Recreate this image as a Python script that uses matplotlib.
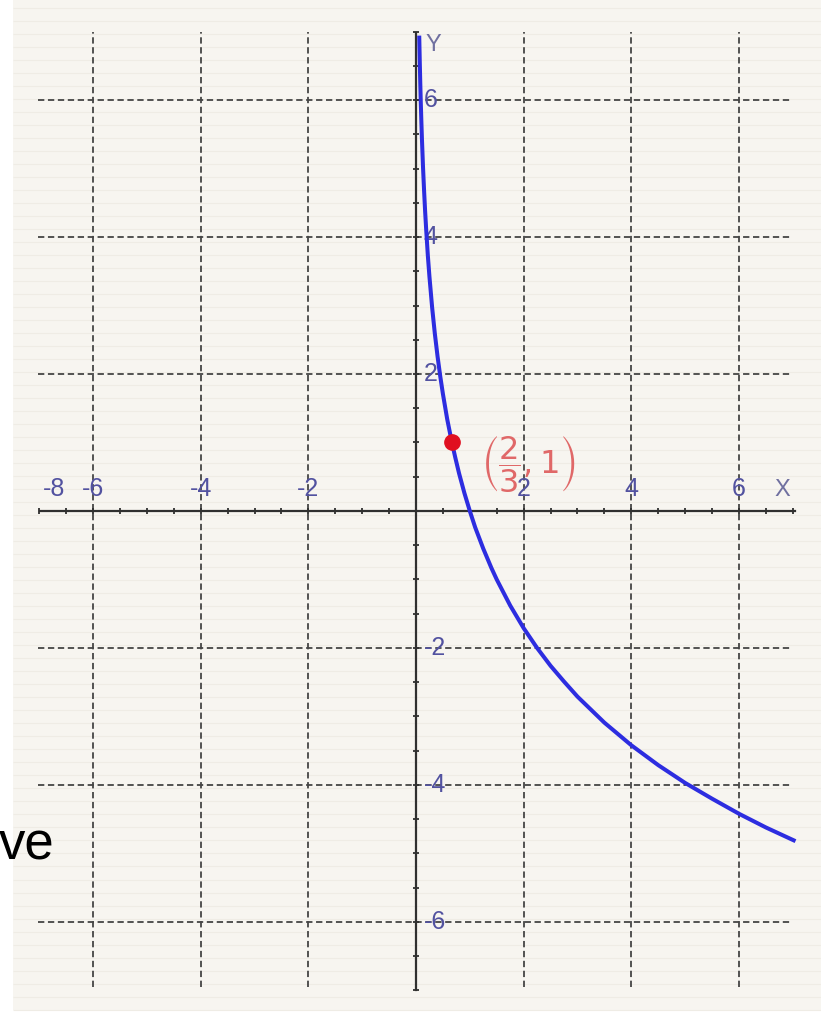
import numpy as np
import matplotlib.pyplot as plt
from matplotlib.patches import Rectangle

# curve y = log_{2/3}(x)
curve_x = [0.06, 0.07, 0.08, 0.09, 0.1, 0.11, 0.13, 0.15, 0.17, 0.19, 0.22, 0.25,
           0.3, 0.35, 0.4, 0.45, 0.5, 0.58, 0.667, 0.73, 0.8, 0.9, 1.0, 1.1, 1.25,
           1.4, 1.5, 1.75, 2.0, 2.25, 2.5, 2.75, 3.0, 3.5, 4.0, 4.5, 5.0, 5.5, 6.0,
           6.5, 7.05]
curve_y = [6.94, 6.56, 6.23, 5.94, 5.68, 5.44, 5.03, 4.68, 4.37, 4.10, 3.73, 3.42,
           2.97, 2.59, 2.26, 1.97, 1.71, 1.34, 1.00, 0.78, 0.55, 0.26, 0.0, -0.24, -0.55,
           -0.83, -1.00, -1.38, -1.71, -2.00, -2.26, -2.49, -2.71, -3.09, -3.42, -3.71,
           -3.97, -4.20, -4.42, -4.62, -4.82]

# marked point (2/3, 1)
point_x = 2 / 3
point_y = 1

grid_x = [-6, -4, -2, 2, 4, 6]
grid_y = [6, 4, 2, -2, -4, -6]

xtick_pos = [-6.72, -6, -4, -2, 2, 4, 6]
xtick_labels = ['-8', '-6', '-4', '-2', '2', '4', '6']
ytick_pos = [6, 4, 2, -2, -4, -6]
ytick_labels = ['6', '4', '2', '-2', '-4', '-6']

minor_x = [v for v in np.arange(-7, 7.01, 0.5) if v != 0]
minor_y = [v for v in np.arange(-7, 7.01, 0.5) if v != 0]

fig = plt.figure(figsize=(8.21, 10.15), dpi=100)
ax = fig.add_axes([0, 0, 1, 1])
ax.set_xlim(-7.728, 7.524)
ax.set_ylim(-7.358, 7.460)
ax.axis('off')

# off-white canvas with faint horizontal banding
ax.add_patch(Rectangle((0.0158, 0.005), 1, 1, transform=ax.transAxes,
                       facecolor='#f7f5f0', edgecolor='none', zorder=0))
ax.hlines(np.arange(-7.28, 7.46, 0.19), -7.487, 7.524, color='#efece5', lw=0.8, zorder=0.5)

# dashed grid
grid_style = dict(color='#454545', lw=1.3, linestyles=(0, (3.5, 2)), zorder=1)
ax.vlines(grid_x, -6.95, 6.99, **grid_style)
ax.hlines(grid_y, -7.02, 6.95, **grid_style)

# axes with small ticks every half unit
ax.plot([-6.98, 7.04], [0, 0], color='#303030', lw=1.6, zorder=2)
ax.plot([0, 0], [-6.99, 6.98], color='#303030', lw=1.6, zorder=2)
ax.plot(minor_x, [0] * len(minor_x), ls='none', marker='|', ms=5, mew=1.3,
        color='#303030', zorder=2)
ax.plot([0] * len(minor_y), minor_y, ls='none', marker='_', ms=5, mew=1.3,
        color='#303030', zorder=2)

label_color = '#5252a0'
for xp, t in zip(xtick_pos, xtick_labels):
    ax.text(xp, 0.32, t, ha='center', va='center', fontsize=18,
            family='Liberation Sans', color=label_color, zorder=3)
for yp, t in zip(ytick_pos, ytick_labels):
    ax.text(0.14, yp, t, ha='left', va='center', fontsize=18,
            family='Liberation Sans', color=label_color, zorder=3)
ax.text(6.8, 0.31, 'X', ha='center', va='center', fontsize=17,
        family='Liberation Sans', color='#7070a0', zorder=3)
ax.text(0.33, 6.8, 'Y', ha='center', va='center', fontsize=17,
        family='Liberation Sans', color='#7070a0', zorder=3)

# the function curve and the marked point
ax.plot(curve_x, curve_y, color='#2d2de0', lw=2.9, solid_capstyle='butt', zorder=4)
ax.plot(point_x, point_y, 'o', ms=11, color='#e01020', zorder=5)
ax.text(2.08, 0.69, r'$\left(\dfrac{2}{3},1\right)$', ha='center', va='center',
        fontsize=23, color='#e06868', zorder=5)

# slide text cut off at the left edge
fig.text(55 / 821, 1 - 845 / 1015, 've', ha='right', va='center', fontsize=38,
         family='Liberation Sans', color='black')

fig.savefig('out.png', dpi=100)
